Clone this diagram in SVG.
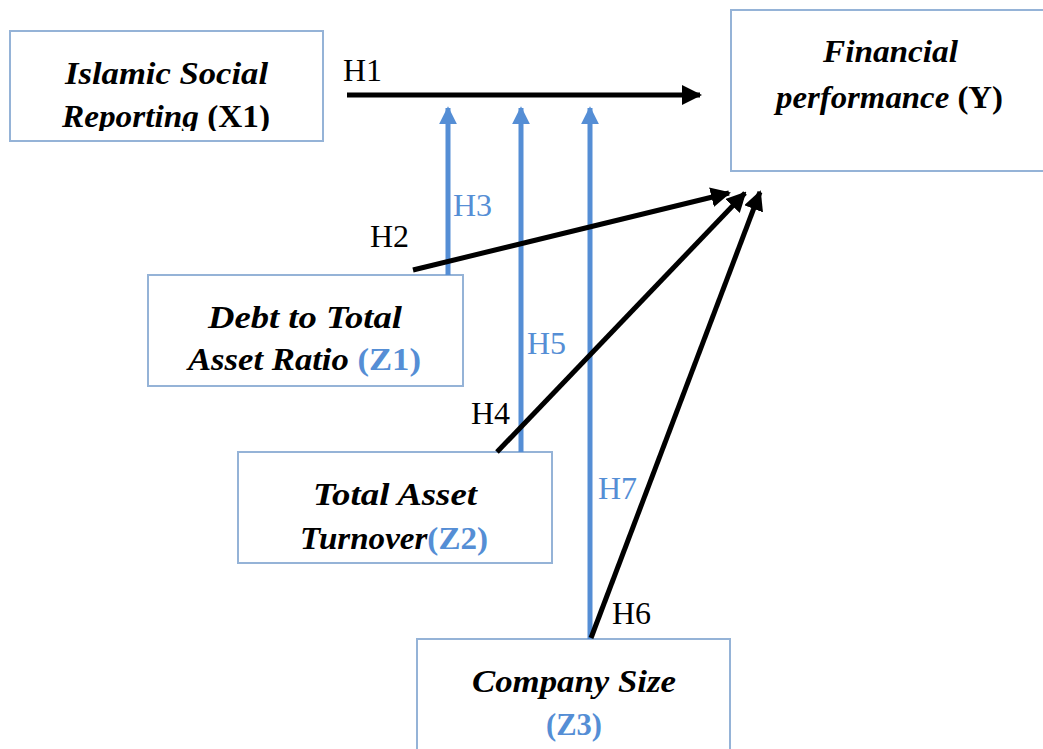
<svg xmlns="http://www.w3.org/2000/svg" width="1043" height="749" viewBox="0 0 1043 749">
<defs>
<style>
.box{fill:#fff;stroke:#95B3D7;stroke-width:2}
.nt{font-family:"Liberation Serif",serif;font-style:italic;font-weight:bold;font-size:31px;fill:#000;text-anchor:start}
.up{font-style:normal}
.bl{fill:#558ED5}
.lab{font-family:"Liberation Serif",serif;font-size:32px;fill:#000}
.lab.b{fill:#558ED5}
.k{stroke:#000;stroke-width:5;fill:none}
.u{stroke:#558ED5;stroke-width:5;fill:none}
</style>
<marker id="ak" viewBox="0 0 10 10" refX="9" refY="5" markerWidth="4" markerHeight="4" markerUnits="strokeWidth" orient="auto"><path d="M0,0 L10,5 L0,10 z" fill="#000"/></marker>
<marker id="au" viewBox="0 0 10 10" refX="9" refY="5" markerWidth="3.6" markerHeight="3.6" markerUnits="strokeWidth" orient="auto"><path d="M0,0 L10,5 L0,10 z" fill="#558ED5"/></marker>
<clipPath id="c1"><rect x="0" y="0" width="400" height="131"/></clipPath>
</defs>
<rect width="1043" height="749" fill="#fff"/>
<g id="x1">
<rect class="box" x="10" y="31" width="313" height="110"/>
<text class="nt" x="65" y="84" textLength="203" lengthAdjust="spacingAndGlyphs">Islamic Social</text>
<text class="nt" x="62" y="127" clip-path="url(#c1)" textLength="208" lengthAdjust="spacingAndGlyphs">Reporting <tspan class="up">(X1)</tspan></text>
</g>
<g id="y">
<rect class="box" x="731" y="10" width="330" height="161"/>
<text class="nt" x="823" y="62" textLength="135" lengthAdjust="spacingAndGlyphs">Financial</text>
<text class="nt" x="776" y="108" textLength="227" lengthAdjust="spacingAndGlyphs">performance <tspan class="up">(Y)</tspan></text>
</g>
<g id="z1">
<rect class="box" x="148" y="275" width="315" height="111"/>
<text class="nt" x="208" y="328" textLength="194" lengthAdjust="spacingAndGlyphs">Debt to Total</text>
<text class="nt" x="188" y="370" textLength="233" lengthAdjust="spacingAndGlyphs">Asset Ratio <tspan class="up bl">(Z1)</tspan></text>
</g>
<g id="z2">
<rect class="box" x="238" y="452" width="314" height="111"/>
<text class="nt" x="313" y="505" textLength="164" lengthAdjust="spacingAndGlyphs">Total Asset</text>
<text class="nt" x="300" y="549" textLength="188" lengthAdjust="spacingAndGlyphs">Turnover<tspan class="up bl">(Z2)</tspan></text>
</g>
<g id="z3">
<rect class="box" x="417" y="639" width="313" height="120"/>
<text class="nt" x="472" y="692" textLength="204" lengthAdjust="spacingAndGlyphs">Company Size</text>
<text class="nt" x="546" y="735" textLength="56" lengthAdjust="spacingAndGlyphs"><tspan class="up bl">(Z3)</tspan></text>
</g>
<g id="connectors">
<line class="k" x1="347" y1="95" x2="700" y2="95" marker-end="url(#ak)"/>
<line class="u" x1="448" y1="275" x2="448" y2="108" marker-end="url(#au)"/>
<line class="u" x1="521" y1="452" x2="521" y2="108" marker-end="url(#au)"/>
<line class="u" x1="590" y1="639" x2="590" y2="108" marker-end="url(#au)"/>
<line class="k" x1="413" y1="270" x2="729" y2="193" marker-end="url(#ak)"/>
<line class="k" x1="497" y1="452" x2="745" y2="193" marker-end="url(#ak)"/>
<line class="k" x1="591" y1="638" x2="760" y2="192" marker-end="url(#ak)"/>
<text class="lab" x="343" y="81">H1</text>
<text class="lab" x="370" y="247">H2</text>
<text class="lab b" x="453" y="216">H3</text>
<text class="lab" x="471" y="424">H4</text>
<text class="lab b" x="527" y="354">H5</text>
<text class="lab" x="612" y="624">H6</text>
<text class="lab b" x="598" y="499">H7</text>
</g>
</svg>
